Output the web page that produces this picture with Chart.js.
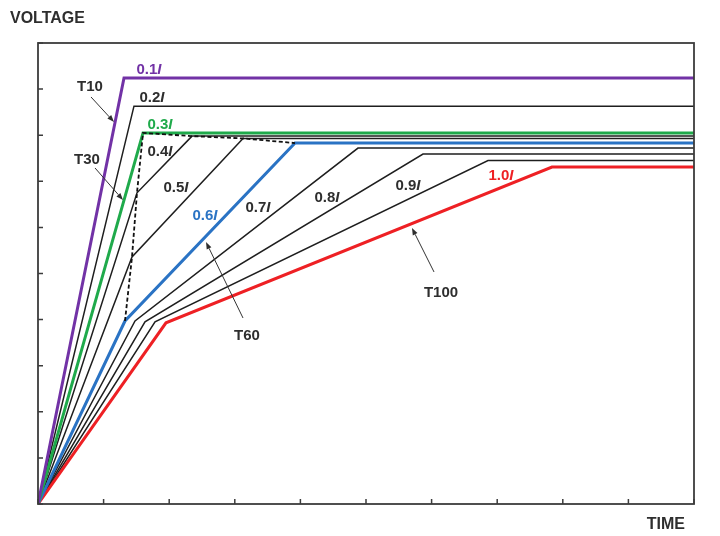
<!DOCTYPE html>
<html>
<head>
<meta charset="utf-8">
<script src="https://cdn.jsdelivr.net/npm/chart.js@4.4.1/dist/chart.umd.min.js"></script>
<style>
  html, body { margin: 0; padding: 0; background: #fff; }
  #wrap { width: 720px; height: 536px; }
</style>
</head>
<body>
<div id="wrap"><canvas id="c" width="720" height="536"></canvas></div>
<script>
// ---- data ----
const currentLabels = ['0.1', '0.2', '0.3', '0.4', '0.5', '0.6', '0.7', '0.8', '0.9', '1.0'];
// first knee (on the T-boundary); null = no knee
const kneeX = [null, null, null, 1.509, 1.433, 1.326, 1.479, 1.631, 1.784, 1.951];
const kneeY = [null, null, null, 6.75, 5.36, 3.97, 3.97, 3.95, 3.95, 3.93];
// corner where the curve reaches its saturated level
const cornerX = [1.311, 1.463, 1.601, 2.348, 3.125, 3.918, 4.878, 5.869, 6.860, 7.835];
const levelY = [9.24, 8.63, 8.05, 7.98, 7.93, 7.83, 7.72, 7.59, 7.45, 7.31];
const timeEnd = 10;
// dashed boundary curve
const boundaryX = [1.326, 1.433, 1.509, 1.601, 2.348, 3.125, 3.918];
const boundaryY = [3.97, 5.36, 6.75, 8.05, 7.98, 7.93, 7.83];
// axis ticks
const xTicks = [0, 1, 2, 3, 4, 5, 6, 7, 8, 9, 10];
const yTicks = [0, 1, 2, 3, 4, 5, 6, 7, 8, 9, 10];
// annotation texts
const curveTexts = ['0.1', '0.2', '0.3', '0.4', '0.5', '0.6', '0.7', '0.8', '0.9', '1.0'];
const calloutTexts = ['T10', 'T30', 'T60', 'T100'];

// ---- styles / positions (not data) ----
const curveColors = ['#7232a6', '#1e1e1e', '#1faa4b', '#1e1e1e', '#1e1e1e', '#2a73c4', '#1e1e1e', '#1e1e1e', '#1e1e1e', '#ee2024'];
const curveWidths = [3, 1.5, 3, 1.5, 1.5, 3, 1.5, 1.5, 1.5, 3];
const textColors = ['#7232a6', '#2e2e2e', '#1faa4b', '#2e2e2e', '#2e2e2e', '#2a73c4', '#2e2e2e', '#2e2e2e', '#2e2e2e', '#ee2024'];
const curveTextPos = [[1.692, 9.414], [1.738, 8.807], [1.860, 8.221], [1.860, 7.636], [2.104, 6.855],
                      [2.546, 6.247], [3.354, 6.421], [4.405, 6.638], [5.640, 6.898], [7.058, 7.115]];
const calloutPos = [[0.793, 9.046], [0.747, 7.462], [3.186, 3.640], [6.143, 4.580]];
const arrowTail = [[0.808, 8.829], [0.869, 7.289], [3.125, 4.035], [6.037, 5.033]];
const arrowHead = [[1.159, 8.286], [1.296, 6.594], [2.561, 5.683], [5.701, 5.987]];

function curvePoints(i) {
  const pts = [{ x: 0, y: 0 }];
  if (kneeX[i] !== null) pts.push({ x: kneeX[i], y: kneeY[i] });
  pts.push({ x: cornerX[i], y: levelY[i] });
  pts.push({ x: timeEnd, y: levelY[i] });
  return pts;
}

const datasets = currentLabels.map((lab, i) => ({
  label: lab + 'I',
  data: curvePoints(i),
  borderColor: curveColors[i],
  borderWidth: curveWidths[i],
  pointRadius: 0,
  fill: false,
  tension: 0,
  borderJoinStyle: 'miter',
  order: curveWidths[i] > 2 ? 1 : 2
}));
datasets.push({
  label: 'boundary',
  data: boundaryX.map((x, i) => ({ x: x, y: boundaryY[i] })),
  borderColor: '#111111',
  borderWidth: 1.8,
  borderDash: [4, 2.5],
  pointRadius: 0,
  fill: false,
  order: 0
});

const FONT = '"Liberation Sans", Arial, Helvetica, sans-serif';

function drawCurrentText(ctx, num, cx, cy, color) {
  ctx.font = 'bold 15px ' + FONT;
  const w1 = ctx.measureText(num).width;
  ctx.font = 'italic bold 15px ' + FONT;
  const w2 = ctx.measureText('I').width;
  const left = cx - (w1 + w2) / 2;
  ctx.fillStyle = color;
  ctx.textBaseline = 'middle';
  ctx.textAlign = 'left';
  ctx.font = 'bold 15px ' + FONT;
  ctx.fillText(num, left, cy);
  ctx.font = 'italic bold 15px ' + FONT;
  ctx.fillText('I', left + w1, cy);
}

const decorPlugin = {
  id: 'decor',
  afterDatasetsDraw(chart) {
    const ctx = chart.ctx;
    const xs = chart.scales.x, ys = chart.scales.y;
    const a = chart.chartArea;
    ctx.save();
    // frame
    ctx.strokeStyle = '#3c3c3c';
    ctx.lineWidth = 1.8;
    ctx.strokeRect(a.left, a.top, a.right - a.left, a.bottom - a.top);
    // inward ticks
    ctx.lineWidth = 1.5;
    ctx.beginPath();
    xTicks.forEach(v => {
      const px = xs.getPixelForValue(v);
      ctx.moveTo(px, a.bottom);
      ctx.lineTo(px, a.bottom - 5);
    });
    yTicks.forEach(v => {
      const py = ys.getPixelForValue(v);
      ctx.moveTo(a.left, py);
      ctx.lineTo(a.left + 5, py);
    });
    ctx.stroke();

    // curve labels
    curveTexts.forEach((t, i) => {
      drawCurrentText(ctx, t, xs.getPixelForValue(curveTextPos[i][0]), ys.getPixelForValue(curveTextPos[i][1]), textColors[i]);
    });

    // callouts with arrows
    ctx.strokeStyle = '#333333';
    ctx.fillStyle = '#2e2e2e';
    ctx.lineWidth = 1;
    calloutTexts.forEach((t, i) => {
      const tx = xs.getPixelForValue(arrowTail[i][0]), ty = ys.getPixelForValue(arrowTail[i][1]);
      const hx = xs.getPixelForValue(arrowHead[i][0]), hy = ys.getPixelForValue(arrowHead[i][1]);
      const ang = Math.atan2(hy - ty, hx - tx);
      const L = 7, W = 2.6;
      const bx = hx - L * Math.cos(ang), by = hy - L * Math.sin(ang);
      ctx.beginPath();
      ctx.moveTo(tx, ty);
      ctx.lineTo(bx, by);
      ctx.stroke();
      ctx.beginPath();
      ctx.moveTo(hx, hy);
      ctx.lineTo(bx + W * Math.sin(ang), by - W * Math.cos(ang));
      ctx.lineTo(bx - W * Math.sin(ang), by + W * Math.cos(ang));
      ctx.closePath();
      ctx.fill();
      ctx.font = 'bold 15px ' + FONT;
      ctx.textAlign = 'center';
      ctx.textBaseline = 'middle';
      ctx.fillText(t, xs.getPixelForValue(calloutPos[i][0]), ys.getPixelForValue(calloutPos[i][1]));
    });

    // axis titles
    ctx.fillStyle = '#2e2e2e';
    ctx.font = 'bold 16px ' + FONT;
    ctx.textAlign = 'left';
    ctx.textBaseline = 'middle';
    ctx.fillText('VOLTAGE', 10, 18.5);
    ctx.textAlign = 'right';
    ctx.fillText('TIME', a.right - 9, a.bottom + 21);
    ctx.restore();
  }
};

new Chart(document.getElementById('c'), {
  type: 'line',
  data: { datasets: datasets },
  options: {
    responsive: false,
    animation: false,
    devicePixelRatio: 1,
    layout: { padding: { left: 38, top: 43, right: 26, bottom: 32 } },
    plugins: { legend: { display: false }, tooltip: { enabled: false } },
    scales: {
      x: { type: 'linear', min: 0, max: 10, display: false },
      y: { type: 'linear', min: 0, max: 10, display: false }
    }
  },
  plugins: [decorPlugin]
});
</script>
</body>
</html>
